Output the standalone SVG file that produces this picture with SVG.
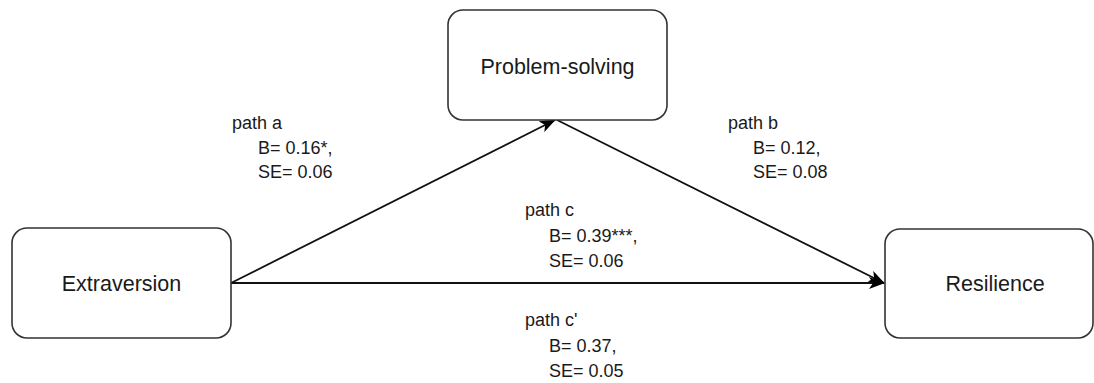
<svg xmlns="http://www.w3.org/2000/svg" width="1094" height="383" viewBox="0 0 1094 383">
<defs>
<style>
.box{fill:#fff;stroke:#333;stroke-width:1.6}
.nt{font-family:"Liberation Sans",Arial,sans-serif;font-size:21.5px;fill:#1a1a1a;text-anchor:middle;dominant-baseline:central}
.lb{font-family:"Liberation Sans",Arial,sans-serif;font-size:18px;fill:#1a1a1a}
.edge{fill:none;stroke:#111;stroke-width:1.8}
</style>
<marker id="arr" viewBox="0 0 16 12" refX="15" refY="6" markerWidth="16" markerHeight="12" markerUnits="userSpaceOnUse" orient="auto">
<path d="M0,0 L16,6 L0,12 L4,6 Z" fill="#000"/>
</marker>
</defs>
<rect width="1094" height="383" fill="#fff"/>
<g id="connectors">
<line class="edge" x1="231" y1="283" x2="555" y2="120" marker-end="url(#arr)"/>
<line class="edge" x1="557" y1="120" x2="884" y2="283" marker-end="url(#arr)"/>
<line class="edge" x1="231" y1="283" x2="884" y2="283" marker-end="url(#arr)"/>
</g>
<g id="node-extraversion">
<rect class="box" x="12" y="228" width="219" height="110" rx="15"/>
<text class="nt" x="121.5" y="284">Extraversion</text>
</g>
<g id="node-problem-solving">
<rect class="box" x="448" y="10" width="219" height="110" rx="15"/>
<text class="nt" x="557.5" y="67">Problem-solving</text>
</g>
<g id="node-resilience">
<rect class="box" x="885" y="229" width="208" height="109" rx="15"/>
<text class="nt" x="995" y="284">Resilience</text>
</g>
<g id="labels">
<text class="lb" x="232" y="129">path a</text>
<text class="lb" x="258" y="154">B= 0.16*,</text>
<text class="lb" x="258" y="178">SE= 0.06</text>
<text class="lb" x="728" y="129">path b</text>
<text class="lb" x="753" y="154">B= 0.12,</text>
<text class="lb" x="753" y="178">SE= 0.08</text>
<text class="lb" x="525" y="216">path c</text>
<text class="lb" x="549" y="242">B= 0.39***,</text>
<text class="lb" x="549" y="267">SE= 0.06</text>
<text class="lb" x="525" y="326">path c'</text>
<text class="lb" x="549" y="352">B= 0.37,</text>
<text class="lb" x="549" y="377">SE= 0.05</text>
</g>
</svg>
